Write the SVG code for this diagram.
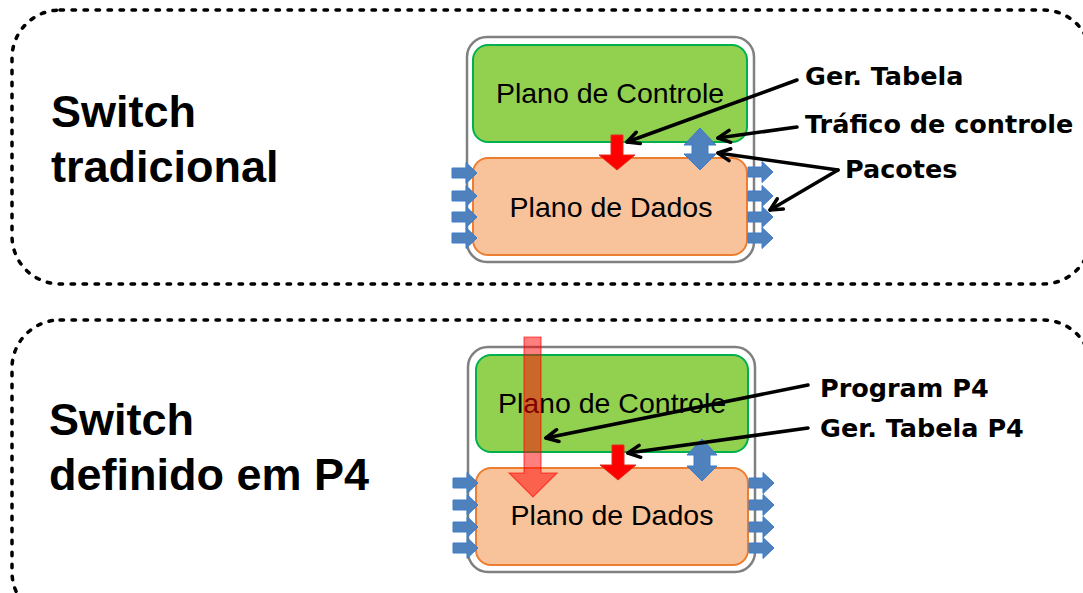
<svg xmlns="http://www.w3.org/2000/svg" width="1083" height="593" viewBox="0 0 1083 593">
  <style>
    .panel { fill: none; stroke: #000; stroke-width: 3.5; stroke-dasharray: 3.5 8.5; stroke-linecap: round; }
    .shell { fill: #fff; stroke: #808080; stroke-width: 2.5; }
    .ctrl { fill: #92d050; stroke: #00b050; stroke-width: 2; }
    .data { fill: #f8c29a; stroke: #ed7d31; stroke-width: 2; }
    .plane { font-family: "Liberation Sans", Arial, sans-serif; font-size: 28.5px; fill: #000; text-anchor: middle; }
    .title { font-family: "Liberation Sans", Arial, sans-serif; font-weight: bold; font-size: 45px; fill: #000; }
    .note { font-family: "DejaVu Sans", Verdana, sans-serif; font-weight: bold; font-size: 25.5px; fill: #000; }
    .port { fill: #4f81bd; stroke: #3d7cc9; stroke-width: 1; }
    .push { fill: #ff0000; stroke: #e0301e; stroke-width: 1; }
    .prog { fill: #ff0000; fill-opacity: 0.5; stroke: #ff0000; stroke-opacity: 0.6; stroke-width: 1.2; }
    .link { fill: none; stroke: #000; stroke-width: 3.5; stroke-linecap: round; marker-end: url(#open); }
  </style>
  <defs>
    <marker id="open" viewBox="0 0 16 16" refX="14" refY="8" markerWidth="16" markerHeight="16" markerUnits="userSpaceOnUse" orient="auto">
      <path d="M2,2 L14,8 L2,14" fill="none" stroke="#000" stroke-width="3.5" stroke-linecap="round" stroke-linejoin="round"/>
    </marker>
    <!-- port arrow pointing right, origin at shaft start, centred vertically -->
    <path id="portArrow" d="M0,-5 L14,-5 L14,-10.5 L25,0 L14,10.5 L14,5 L0,5 Z"/>
  </defs>

  <rect width="1083" height="593" fill="#fff"/>

  <!-- dashed panels -->
  <rect class="panel" x="12" y="10" width="1079" height="274" rx="48"/>
  <rect class="panel" x="12" y="320" width="1079" height="300" rx="48"/>

  <!-- traditional switch -->
  <g id="switch-tradicional">
    <text class="title" x="51" y="127">Switch</text>
    <text class="title" x="51" y="182">tradicional</text>
    <rect class="shell" x="467" y="37" width="287" height="225" rx="20"/>
    <g id="controle-1">
      <rect class="ctrl" x="473" y="45" width="274" height="97" rx="15"/>
      <text class="plane" x="610" y="103">Plano de Controle</text>
    </g>
    <g id="dados-1">
      <rect class="data" x="473" y="158" width="274" height="97" rx="15"/>
      <text class="plane" x="611" y="217">Plano de Dados</text>
    </g>
    <g id="portas-1" class="port">
      <use href="#portArrow" x="452" y="173"/>
      <use href="#portArrow" x="452" y="196"/>
      <use href="#portArrow" x="452" y="217"/>
      <use href="#portArrow" x="452" y="238"/>
      <use href="#portArrow" x="748" y="172"/>
      <use href="#portArrow" x="748" y="196"/>
      <use href="#portArrow" x="748" y="217"/>
      <use href="#portArrow" x="748" y="238"/>
    </g>
    <polygon id="tabela-1" class="push" points="611,135 623,135 623,155 635,155 617,170 599,155 611,155"/>
    <polygon id="trafego-1" class="port" points="700,128 716,145 708,145 708,154 716,154 700,170 684,154 692,154 692,145 684,145"/>
  </g>

  <!-- P4-defined switch -->
  <g id="switch-p4">
    <text class="title" x="49" y="435">Switch</text>
    <text class="title" x="49" y="490">definido em P4</text>
    <rect class="shell" x="468" y="347" width="287" height="225" rx="20"/>
    <g id="controle-2">
      <rect class="ctrl" x="476" y="355" width="272" height="97" rx="15"/>
      <text class="plane" x="612" y="413">Plano de Controle</text>
    </g>
    <g id="dados-2">
      <rect class="data" x="476" y="468" width="272" height="97" rx="15"/>
      <text class="plane" x="612" y="525">Plano de Dados</text>
    </g>
    <g id="portas-2" class="port">
      <use href="#portArrow" x="453" y="483"/>
      <use href="#portArrow" x="453" y="505"/>
      <use href="#portArrow" x="453" y="527"/>
      <use href="#portArrow" x="453" y="548"/>
      <use href="#portArrow" x="749" y="483"/>
      <use href="#portArrow" x="749" y="505"/>
      <use href="#portArrow" x="749" y="527"/>
      <use href="#portArrow" x="749" y="548"/>
    </g>
    <polygon id="tabela-2" class="push" points="612,445 624,445 624,465 636,465 618,480 600,465 612,465"/>
    <polygon id="trafego-2" class="port" points="702,439 717,455 710,455 710,466 717,466 702,481 687,466 694,466 694,455 687,455"/>
    <polygon id="programa" class="prog" points="524,337 541,337 541,473 557,473 533,497 509,473 524,473"/>
  </g>

  <!-- callout labels -->
  <g id="labels">
    <text class="note" x="805" y="85">Ger. Tabela</text>
    <text class="note" x="805" y="133">Tráfico de controle</text>
    <text class="note" x="845" y="178">Pacotes</text>
    <text class="note" x="820" y="397">Program P4</text>
    <text class="note" x="820" y="437">Ger. Tabela P4</text>
  </g>

  <!-- callout connectors -->
  <g id="connectors">
    <line class="link" x1="797" y1="80" x2="627" y2="142"/>
    <line class="link" x1="797" y1="127" x2="718" y2="138"/>
    <line class="link" x1="838" y1="170" x2="718" y2="153"/>
    <line class="link" x1="838" y1="170" x2="770" y2="210"/>
    <line class="link" x1="808" y1="385" x2="546" y2="438"/>
    <line class="link" x1="808" y1="428" x2="628" y2="453"/>
  </g>
</svg>
